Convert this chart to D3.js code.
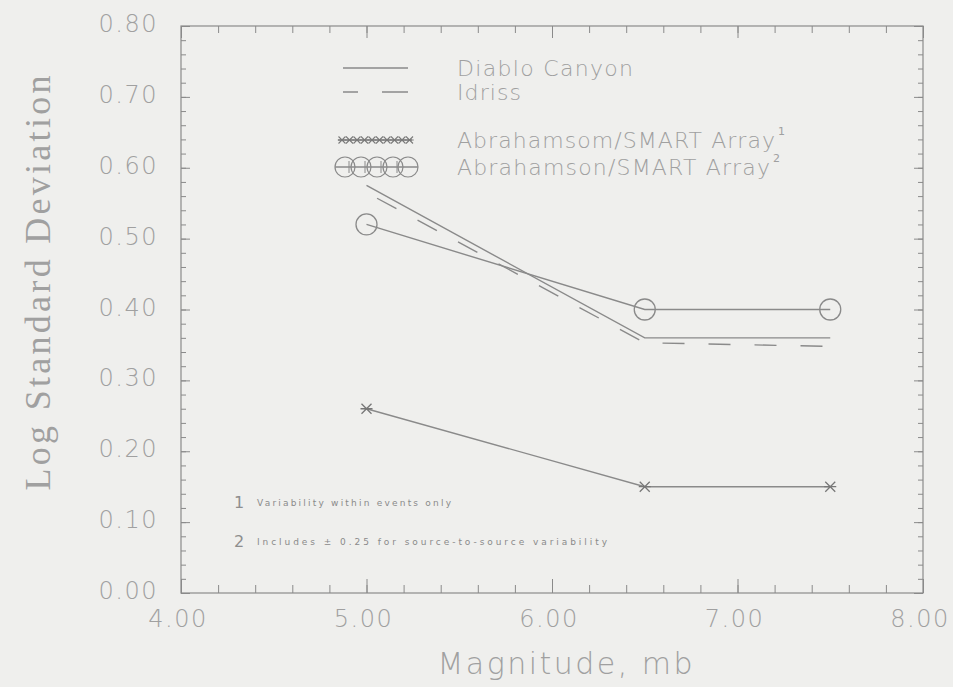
<!DOCTYPE html>
<html>
<head>
<meta charset="utf-8">
<script src="https://cdn.jsdelivr.net/npm/d3@7"></script>
<style>
  html, body { margin: 0; padding: 0; background: #efefed; }
  svg { display: block; }
</style>
</head>
<body>
<svg id="chart" width="953" height="687"></svg>
<script>
// Magnitudes at which each relation is evaluated
const magnitudes = [5.0, 6.5, 7.5];

// Log standard deviation for each relation
const diabloCanyon = [0.575, 0.36, 0.36];
const idriss = [0.565, 0.353, 0.348];
const abrahamsonWithin = [0.26, 0.15, 0.15];
const abrahamsonTotal = [0.52, 0.40, 0.40];

// Axis ticks and labels
const xMajorTicks = [4, 5, 6, 7, 8];
const xTickLabels = ["4.00", "5.00", "6.00", "7.00", "8.00"];
const yMajorTicks = [0, 0.1, 0.2, 0.3, 0.4, 0.5, 0.6, 0.7, 0.8];
const yTickLabels = ["0.00", "0.10", "0.20", "0.30", "0.40", "0.50", "0.60", "0.70", "0.80"];

// Legend entries and footnotes
const legendLabels = ["Diablo Canyon", "Idriss", "Abrahamsom/SMART Array", "Abrahamson/SMART Array"];
const legendNotes = ["", "", "1", "2"];
const footnoteMarks = ["1", "2"];
const footnotes = ["Variability within events only", "Includes  \u00b1 0.25 for source-to-source variability"];

const ink = "#8a8a8a";
const textInk = "#a0a0a0";
const tickFont = "'DejaVu Sans', 'Noto Sans', sans-serif";

const svg = d3.select("#chart");
const plotLeft = 181, plotRight = 923, plotTop = 26, plotBottom = 593;

const x = d3.scaleLinear().domain([4, 8]).range([plotLeft, plotRight]);
const y = d3.scaleLinear().domain([0, 0.8]).range([plotBottom, plotTop]);

// Frame
svg.append("rect")
  .attr("x", plotLeft).attr("y", plotTop)
  .attr("width", plotRight - plotLeft).attr("height", plotBottom - plotTop)
  .attr("fill", "none").attr("stroke", ink).attr("stroke-width", 1.2);

// Inward ticks on all four sides
function ticks(axisFn, scale, values, size, translate) {
  const g = svg.append("g").attr("transform", translate)
    .call(axisFn(scale).tickValues(values).tickSize(-size).tickFormat(""));
  g.select(".domain").remove();
  g.selectAll("line").attr("stroke", ink).attr("stroke-width", 1);
  return g;
}
const yMinor = d3.range(0, 0.8001, 0.02);
const xMinor = d3.range(4, 8.001, 0.2);
ticks(d3.axisLeft, y, yMinor, 5, `translate(${plotLeft},0)`);
ticks(d3.axisLeft, y, yMajorTicks, 9, `translate(${plotLeft},0)`);
ticks(d3.axisRight, y, yMinor, 5, `translate(${plotRight},0)`);
ticks(d3.axisRight, y, yMajorTicks, 9, `translate(${plotRight},0)`);
ticks(d3.axisBottom, x, xMinor, 8, `translate(0,${plotBottom})`);
ticks(d3.axisBottom, x, xMajorTicks, 14, `translate(0,${plotBottom})`);
ticks(d3.axisTop, x, xMinor, 7, `translate(0,${plotTop})`);
ticks(d3.axisTop, x, xMajorTicks, 12, `translate(0,${plotTop})`);

// Tick labels
svg.append("g").selectAll("text").data(yMajorTicks).join("text")
  .attr("x", 158).attr("y", d => y(d) - 1)
  .attr("text-anchor", "end").attr("dominant-baseline", "middle")
  .attr("font-family", tickFont).attr("font-weight", 200)
  .attr("font-size", 24).attr("letter-spacing", 1.5)
  .attr("fill", textInk)
  .text((d, i) => yTickLabels[i]);

svg.append("g").selectAll("text").data(xMajorTicks).join("text")
  .attr("x", d => x(d) - 3).attr("y", 627)
  .attr("text-anchor", "middle")
  .attr("font-family", tickFont).attr("font-weight", 200)
  .attr("font-size", 24).attr("letter-spacing", 1.5)
  .attr("fill", textInk)
  .text((d, i) => xTickLabels[i]);

// Axis titles
svg.append("text")
  .attr("transform", "translate(50,283) rotate(-90)")
  .attr("text-anchor", "middle")
  .attr("font-family", "'Liberation Serif', 'DejaVu Serif', serif")
  .attr("font-size", 36).attr("fill", textInk)
  .attr("textLength", 415).attr("lengthAdjust", "spacing")
  .text("Log Standard Deviation");

svg.append("text")
  .attr("x", 565).attr("y", 674)
  .attr("text-anchor", "middle")
  .attr("font-family", tickFont).attr("font-weight", 200)
  .attr("font-size", 30).attr("fill", textInk)
  .attr("textLength", 255).attr("lengthAdjust", "spacing")
  .text("Magnitude,  mb");

// Marker shapes
function asteriskPath(cx, cy, r) {
  return `M${cx - r},${cy - r}L${cx + r},${cy + r}M${cx - r},${cy + r}L${cx + r},${cy - r}` +
         `M${cx - r * 1.2},${cy}L${cx + r * 1.2},${cy}`;
}

const pts = vals => magnitudes.map((m, i) => [x(m), y(vals[i])]);
const line = d3.line();

// Diablo Canyon
svg.append("path").attr("d", line(pts(diabloCanyon)))
  .attr("fill", "none").attr("stroke", ink).attr("stroke-width", 1.4);

// Idriss (dashed)
svg.append("path").attr("d", line(pts(idriss)))
  .attr("fill", "none").attr("stroke", ink).attr("stroke-width", 1.4)
  .attr("stroke-dasharray", "22,24").attr("stroke-dashoffset", -12);

// Abrahamson, within-event variability
svg.append("path").attr("d", line(pts(abrahamsonWithin)))
  .attr("fill", "none").attr("stroke", ink).attr("stroke-width", 1.4);
svg.append("g").selectAll("path").data(pts(abrahamsonWithin)).join("path")
  .attr("d", d => asteriskPath(d[0], d[1], 5))
  .attr("fill", "none").attr("stroke", "#777").attr("stroke-width", 1.3);

// Abrahamson, including source-to-source variability
svg.append("path").attr("d", line(pts(abrahamsonTotal)))
  .attr("fill", "none").attr("stroke", ink).attr("stroke-width", 1.4);
svg.append("g").selectAll("circle").data(pts(abrahamsonTotal)).join("circle")
  .attr("cx", d => d[0]).attr("cy", d => d[1]).attr("r", 10.5)
  .attr("fill", "none").attr("stroke", ink).attr("stroke-width", 1.3);

// Legend
const legendY = [68, 92, 140, 167];
const legend = svg.append("g");
legend.append("line").attr("x1", 343).attr("x2", 408).attr("y1", legendY[0]).attr("y2", legendY[0])
  .attr("stroke", ink).attr("stroke-width", 1.4);
legend.append("line").attr("x1", 343).attr("x2", 408).attr("y1", legendY[1]).attr("y2", legendY[1])
  .attr("stroke", ink).attr("stroke-width", 1.4).attr("stroke-dasharray", "15,24,26,60");
legend.append("line").attr("x1", 338).attr("x2", 412).attr("y1", legendY[2]).attr("y2", legendY[2])
  .attr("stroke", ink).attr("stroke-width", 1.4);
legend.append("g").selectAll("path").data(d3.range(342, 411, 7.5)).join("path")
  .attr("d", d => asteriskPath(d, legendY[2], 3.5))
  .attr("fill", "none").attr("stroke", "#7a7a7a").attr("stroke-width", 1.1);
legend.append("line").attr("x1", 335).attr("x2", 418).attr("y1", legendY[3]).attr("y2", legendY[3])
  .attr("stroke", ink).attr("stroke-width", 1.3);
legend.append("g").selectAll("circle").data([345, 361, 377, 393, 408]).join("circle")
  .attr("cx", d => d).attr("cy", legendY[3]).attr("r", 10)
  .attr("fill", "none").attr("stroke", ink).attr("stroke-width", 1.2);
legend.append("g").selectAll("line").data([349, 365, 381, 397]).join("line")
  .attr("x1", d => d).attr("x2", d => d).attr("y1", legendY[3] - 6).attr("y2", legendY[3] + 6)
  .attr("stroke", ink).attr("stroke-width", 1);

const legendWidths = [176, 64, 318, 313];
legend.append("g").selectAll("text").data(legendLabels).join("text")
  .attr("x", 457).attr("y", (d, i) => legendY[i] + 8)
  .attr("font-family", tickFont).attr("font-weight", 200)
  .attr("font-size", 22).attr("fill", textInk)
  .attr("textLength", (d, i) => legendWidths[i]).attr("lengthAdjust", "spacing")
  .text(d => d);
legend.append("g").selectAll("text").data(legendNotes).join("text")
  .attr("x", (d, i) => 457 + legendWidths[i] + 3).attr("y", (d, i) => legendY[i] - 5)
  .attr("font-family", tickFont).attr("font-size", 11).attr("fill", textInk)
  .text(d => d);

// Footnotes
const noteY = [502, 541];
const noteWidths = [194, 350];
svg.append("g").selectAll("text").data(footnoteMarks).join("text")
  .attr("x", 239).attr("y", (d, i) => noteY[i] + 6)
  .attr("text-anchor", "middle")
  .attr("font-family", tickFont)
  .attr("font-size", 16).attr("fill", "#8e8e8e")
  .text(d => d);
svg.append("g").selectAll("text").data(footnotes).join("text")
  .attr("x", 257).attr("y", (d, i) => noteY[i] + 4)
  .attr("font-family", tickFont)
  .attr("font-size", 9).attr("fill", "#8a8a8a")
  .attr("textLength", (d, i) => noteWidths[i]).attr("lengthAdjust", "spacing")
  .text(d => d);
</script>
</body>
</html>
